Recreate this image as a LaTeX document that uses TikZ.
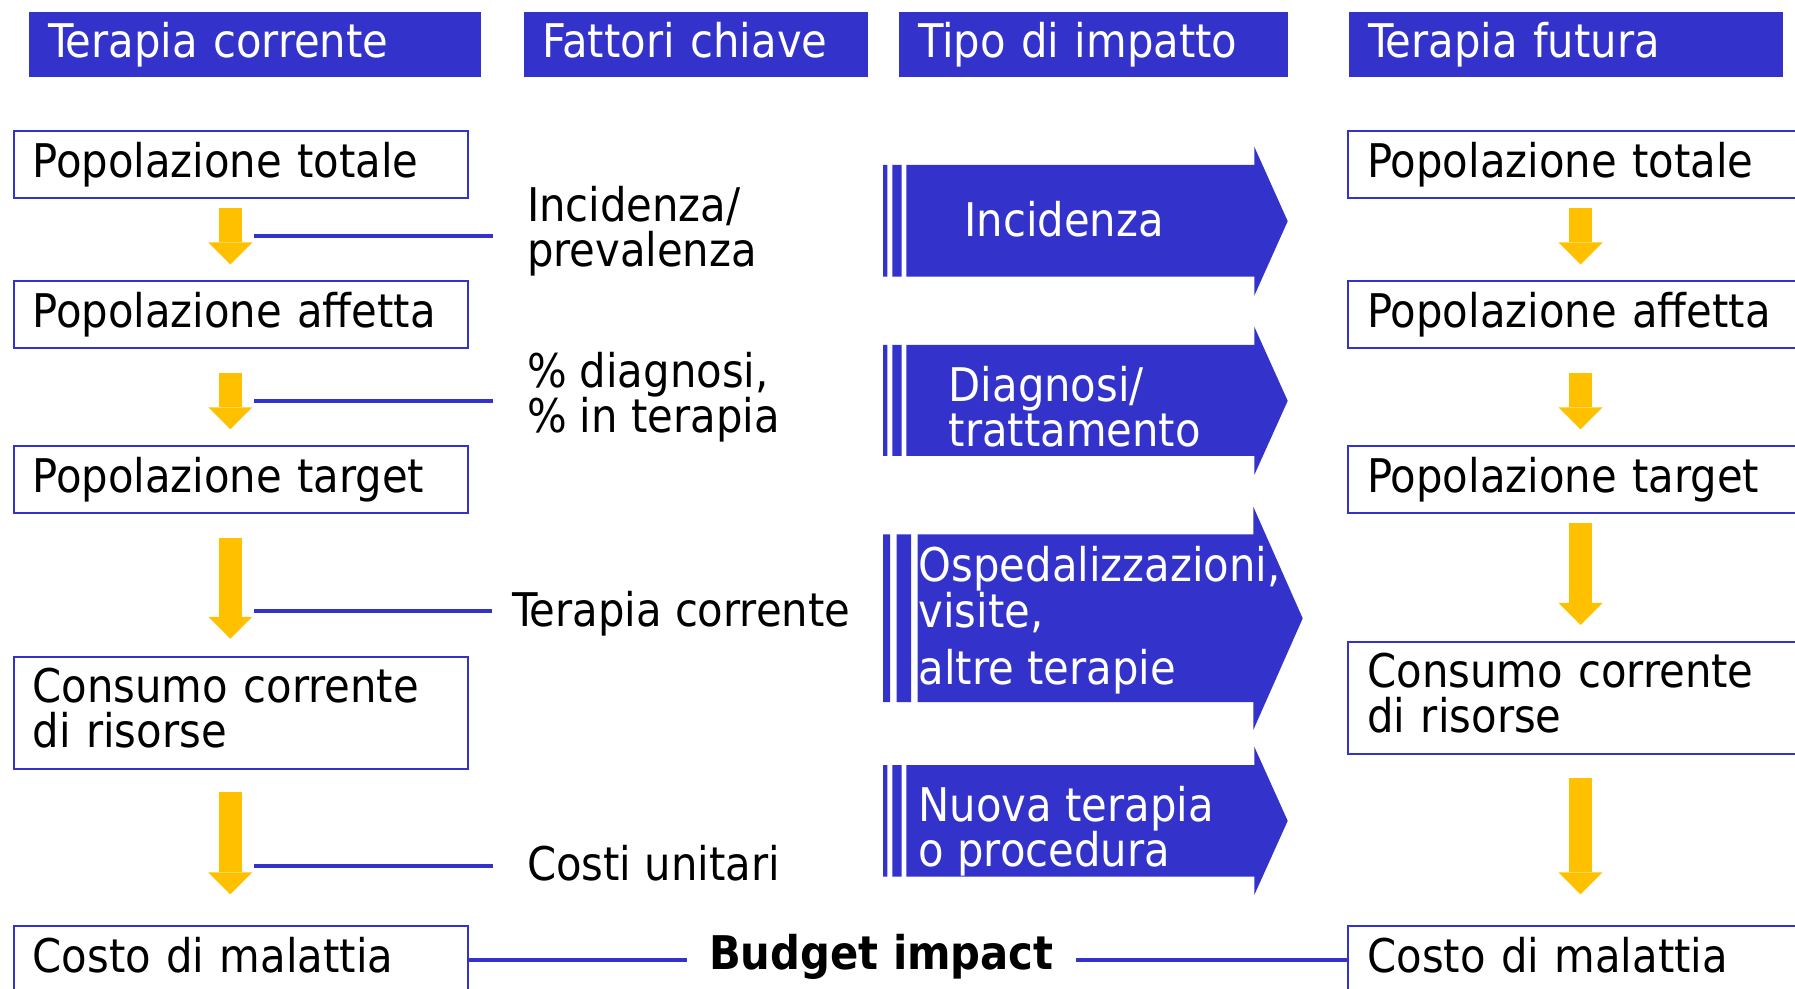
\documentclass[tikz,border=0pt]{standalone}
\usepackage{fontspec}
\setmainfont{DejaVu Sans Condensed}
\usetikzlibrary{arrows.meta,positioning}
\definecolor{bimblue}{HTML}{3333CC}
\definecolor{bimyellow}{HTML}{FFC000}
\newcommand{\bimfont}{\fontsize{23.2pt}{22.75pt}\selectfont}

\begin{document}
\begin{tikzpicture}[x=0.5pt, y=-0.5pt,
    every node/.style={font=\bimfont},
    header/.style={fill=bimblue, text=white, anchor=north west, inner xsep=9.5pt, inner ysep=0pt, minimum height=32.65pt,
        align=left, text height=17.9pt, text depth=5.2pt},
    popbox/.style={draw=bimblue, line width=1pt, fill=white, anchor=north west, inner xsep=9.5pt, inner ysep=0pt, minimum height=33.2pt, align=left},
    oneline/.style={text height=17.9pt, text depth=5.2pt},
    twoline/.style={minimum height=56.1pt, text height=17.9pt, text depth=28.5pt},
    leftbox/.style={popbox, text width=208.2pt},
    rightbox/.style={popbox, text width=216pt},
    factor/.style={anchor=base west, inner sep=0pt, align=left},
    impact/.style={anchor=base west, inner sep=0pt, align=left, text=white},
    yarrow/.style={draw=bimyellow, line width=11.35pt, -{Triangle[length=11pt, width=22pt, line width=0pt]}},
    bline/.style={draw=bimblue, line width=2pt}]

    \useasboundingbox (0,0) rectangle (1795,989);
    \clip (0,0) rectangle (1795,989);

    % column headers
    \node[header, text width=207.1pt] (hdcur) at (28.6,11.4) {Terapia corrente};
    \node[header, text width=153.25pt] (hdfat) at (523.2,11.4) {Fattori chiave};
    \node[header, text width=175.6pt] (hdtip) at (898.7,11.4) {Tipo di impatto};
    \node[header, text width=197.95pt] (hdfut) at (1348.6,11.4) {Terapia futura};

    % current therapy
    \node[leftbox, oneline] (ptot) at (12.6,130.5) {Popolazione totale};
    \node[leftbox, oneline] (paff) at (12.6,280.5) {Popolazione affetta};
    \node[leftbox, oneline] (ptar) at (12.6,445.3) {Popolazione target};
    \node[leftbox, twoline] (cons) at (12.6,656) {Consumo corrente\\di risorse};
    \node[leftbox, oneline] (cmal) at (12.6,925.3) {Costo di malattia};

    % future therapy
    \node[rightbox, oneline] (ftot) at (1347.4,130.5) {Popolazione totale};
    \node[rightbox, oneline] (faff) at (1347.4,280.5) {Popolazione affetta};
    \node[rightbox, oneline] (ftar) at (1347.4,445.3) {Popolazione target};
    \node[rightbox, twoline] (fcons) at (1347.4,641) {Consumo corrente\\di risorse};
    \node[rightbox, oneline] (fmal) at (1347.4,925.3) {Costo di malattia};

    \coordinate (colL) at (230.3,0);
    \coordinate (colR) at (1580.5,0);
    \foreach \a/\b/\s/\e/\c in {ptot/paff/4.55/8/colL, paff/ptar/12/8/colL, ptar/cons/12/8.6/colL, cons/cmal/10.9/15.5/colL,
                                ftot/faff/4.55/8/colR, faff/ftar/12/8/colR, ftar/fcons/4.65/8/colR, fcons/fmal/11.35/15.5/colR}
        \draw[yarrow, shorten <=\s pt, shorten >=\e pt] (\a.south -| \c) -- (\b.north -| \c);

    % key factors (base = last line)
    \node[factor] (fincid) at (526.6,266.7) {Incidenza/\\prevalenza};
    \node[factor] (fdiag) at (526.6,432.7) {\% diagnosi,\\\% in terapia};
    \node[factor] (fterap) at (511.7,626.7) {Terapia corrente};
    \node[factor] (fcosti) at (526.6,880) {Costi unitari};
    \foreach \k/\yk/\g in {fincid/235.8/17, fdiag/400.7/17, fterap/611.3/9.85, fcosti/865.5/17}
        \draw[bline, shorten >=\g pt] (254,\yk) coordinate (k\k) -- (k\k -| \k.west);

    % impact arrows
    \foreach \ya/\yb/\yc/\yd/\pa/\pb/\pc/\pd/\pe/\pf/\pg in {
        146.7/165/276.7/295.7/883/887.3/892.3/901.7/906.3/1254.3/1287.7,
        326.7/345/456/475/883/887.3/892.3/901.7/906.3/1254.3/1287.7,
        506.7/534.3/702/730/883/890/896.7/911/917.7/1253.3/1302.7,
        746.7/765/876.7/895/883/887.3/892.3/901.7/906.3/1254.3/1287.7}
    {
        \fill[bimblue] (\pa,\yb) rectangle (\pb,\yc) (\pc,\yb) rectangle (\pd,\yc);
        \fill[bimblue] (\pe,\yb) -- (\pf,\yb) -- (\pf,\ya) -- (\pg,{(\ya+\yd)/2}) -- (\pf,\yd) -- (\pf,\yc) -- (\pe,\yc) -- cycle;
    }
    \node[impact] (tinc) at (964,236.7) {Incidenza};
    \node[impact] (tdia) at (948.3,446.7) {Diagnosi/\\trattamento};
    \node[impact] (tosp) at (918.3,684) {Ospedalizzazioni,\\visite,\\[5.6pt]altre terapie};
    \node[impact] (tnuo) at (918.3,866.7) {Nuova terapia\\o procedura};

    % budget impact
    \node[factor, font=\bimfont\bfseries] (bimp) at (708.6,969) {Budget impact};
    \draw[bline, shorten >=10.8pt] (cmal.east) -- (cmal.east -| bimp.west);
    \draw[bline, shorten <=10.85pt] (fmal.west -| bimp.east) -- (fmal.west);
\end{tikzpicture}
\end{document}
